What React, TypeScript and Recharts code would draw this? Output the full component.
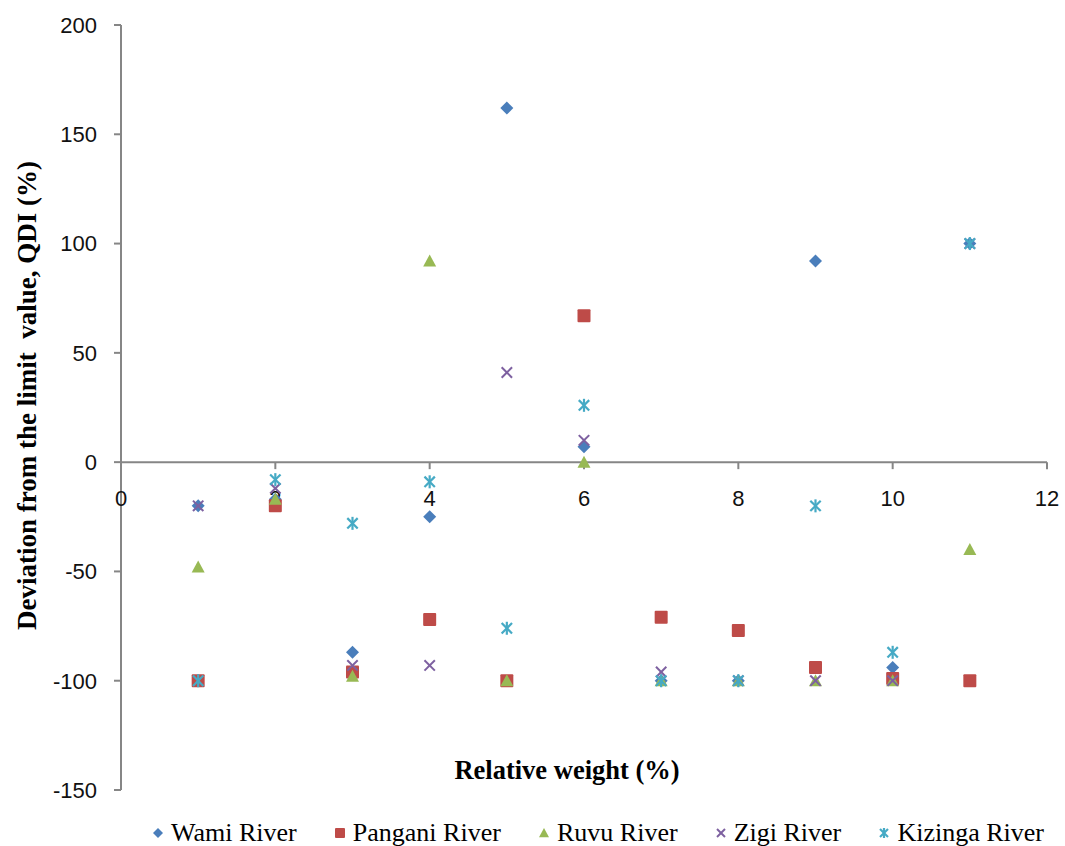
import React from 'react';
import {
  ScatterChart, Scatter, XAxis, YAxis, ReferenceLine, ReferenceDot,
} from 'recharts';

// relative weight (%) on the x axis
const weights = [1, 2, 3, 4, 5, 6, 7, 8, 9, 10, 11];

const wami = [-20, -17, -87, -25, 162, 7, -100, -100, 92, -94, 100];
const pangani = [-100, -20, -96, -72, -100, 67, -71, -77, -94, -99, -100];
const ruvu = [-48, -17, -98, 92, -100, 0, -100, -100, -100, -100, -40];
const zigi = [-20, -12, -93, -93, 41, 10, -96, -100, -100, -100, 100];
const kizinga = [-100, -8, -28, -9, -76, 26, -100, -100, -20, -87, 100];

const xTicks = [0, 2, 4, 6, 8, 10, 12];
const yTicks = [-150, -100, -50, 0, 50, 100, 150, 200];

const toPoints = (vals: number[]) => vals.map((v, i) => ({ x: weights[i], y: v }));

const AXIS = '#868686';
const TICK_FONT = '"Liberation Sans", Arial, sans-serif';
const SERIF = '"Liberation Serif", "Times New Roman", serif';

type Kind = 'diamond' | 'square' | 'triangle' | 'x' | 'star';

const Marker = ({ kind, cx, cy, color, s = 6.5 }: { kind: Kind; cx: number; cy: number; color: string; s?: number }) => {
  if (kind === 'diamond') {
    return <polygon points={`${cx},${cy - s} ${cx + s},${cy} ${cx},${cy + s} ${cx - s},${cy}`} fill={color} />;
  }
  if (kind === 'square') {
    return <rect x={cx - s} y={cy - s} width={s * 2} height={s * 2} rx={1} fill={color} />;
  }
  if (kind === 'triangle') {
    return <polygon points={`${cx},${cy - s} ${cx + s},${cy + s * 0.85} ${cx - s},${cy + s * 0.85}`} fill={color} />;
  }
  const d = s * 0.8;
  if (kind === 'x') {
    return (
      <g stroke={color} strokeWidth={2}>
        <line x1={cx - d} y1={cy - d} x2={cx + d} y2={cy + d} />
        <line x1={cx - d} y1={cy + d} x2={cx + d} y2={cy - d} />
      </g>
    );
  }
  return (
    <g stroke={color} strokeWidth={2.2}>
      <line x1={cx - d} y1={cy - d} x2={cx + d} y2={cy + d} />
      <line x1={cx - d} y1={cy + d} x2={cx + d} y2={cy - d} />
      <line x1={cx} y1={cy - s} x2={cx} y2={cy + s} />
    </g>
  );
};

const series: { name: string; data: number[]; color: string; kind: Kind }[] = [
  { name: 'Wami River', data: wami, color: '#4a7ebb', kind: 'diamond' },
  { name: 'Pangani River', data: pangani, color: '#be4b48', kind: 'square' },
  { name: 'Ruvu River', data: ruvu, color: '#98b954', kind: 'triangle' },
  { name: 'Zigi River', data: zigi, color: '#7d60a0', kind: 'x' },
  { name: 'Kizinga River', data: kizinga, color: '#46aac5', kind: 'star' },
];

// x ticks are drawn on the zero line, like Excel's crossing axis
const XTick = (props: any) => {
  const { cx, cy, label } = props;
  return (
    <g>
      <line x1={cx} y1={cy} x2={cx} y2={cy + 7} stroke={AXIS} strokeWidth={2} />
      <text x={cx} y={cy + 44} textAnchor="middle" fontSize={22} fontFamily={TICK_FONT} fill="#111">
        {label}
      </text>
    </g>
  );
};

const YTitle = ({ viewBox }: any) => {
  const cy = viewBox.y + viewBox.height / 2 - 12;
  return (
    <text
      x={27}
      y={cy}
      transform={`rotate(-90, 27, ${cy})`}
      textAnchor="middle"
      dominantBaseline="central"
      fontSize={27}
      fontWeight="bold"
      fontFamily={SERIF}
      fill="#000"
      style={{ whiteSpace: 'pre' }}
    >
      Deviation from the limit  value, QDI (%)
    </text>
  );
};

export default function App() {
  return (
    <div style={{ position: 'absolute', left: 0, top: 0, width: 1065, height: 846, background: '#fff', overflow: 'hidden' }}>
      <ScatterChart width={1065} height={846} margin={{ top: 25, right: 18, bottom: 56, left: 0 }}>
        <XAxis type="number" dataKey="x" domain={[0, 12]} ticks={xTicks} hide />
        <YAxis
          type="number"
          dataKey="y"
          domain={[-150, 200]}
          ticks={yTicks}
          width={121}
          axisLine={{ stroke: AXIS, strokeWidth: 2 }}
          tickLine={{ stroke: AXIS, strokeWidth: 2 }}
          tickSize={7}
          tickMargin={17}
          tick={{ fill: '#111', fontSize: 22, fontFamily: TICK_FONT }}
          label={<YTitle />}
        />
        <ReferenceLine y={0} stroke={AXIS} strokeWidth={2} />
        {xTicks.map(t => (
          <ReferenceDot
            key={t}
            x={t}
            y={0}
            ifOverflow="visible"
            shape={(p: any) => <XTick {...p} label={t} />}
          />
        ))}
        {series.map(s => (
          <Scatter
            key={s.name}
            name={s.name}
            data={toPoints(s.data)}
            isAnimationActive={false}
            shape={(p: any) => <Marker kind={s.kind} cx={p.cx} cy={p.cy} color={s.color} />}
          />
        ))}
      </ScatterChart>
      <div
        style={{
          position: 'absolute', left: 0, top: 755, width: 1134, textAlign: 'center',
          fontFamily: SERIF, fontWeight: 'bold', fontSize: 26.5, color: '#000',
        }}
      >
        Relative weight (%)
      </div>
      <div
        style={{
          position: 'absolute', left: 151, top: 818, width: 893, display: 'flex',
          justifyContent: 'space-between', alignItems: 'center',
          fontFamily: SERIF, fontSize: 26, color: '#000', whiteSpace: 'nowrap',
        }}
      >
        {series.map(s => (
          <div key={s.name} style={{ display: 'flex', alignItems: 'center' }}>
            <svg width={14} height={14} style={{ marginRight: 6 }}>
              <Marker kind={s.kind} cx={7} cy={7} color={s.color} s={5} />
            </svg>
            <span>{s.name}</span>
          </div>
        ))}
      </div>
    </div>
  );
}
